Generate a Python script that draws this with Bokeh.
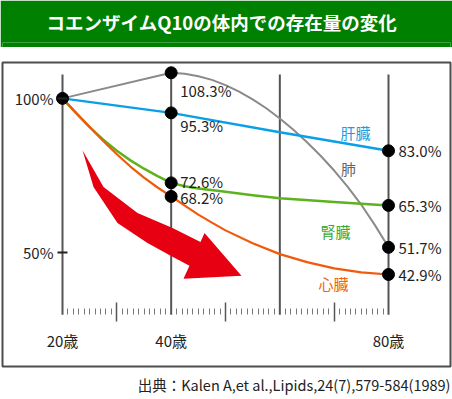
from bokeh.plotting import figure
from bokeh.models import ColumnDataSource, LinearAxis, FixedTicker, Title, Range1d
from bokeh.layouts import column
from bokeh.embed import file_html
from bokeh.resources import INLINE
from bokeh.core.properties import value

# ---------------- data ----------------
TITLE = "コエンザイムQ10の体内での存在量の変化"
SOURCE_NOTE = "出典：Kalen A,et al.,Lipids,24(7),579-584(1989)"

liver_ages = [20, 40, 60, 80]
liver = [100, 95.3, 89.0, 83.0]

lung_ages = [20, 40, 42.5, 45, 47.5, 50, 52.5, 55, 57.5, 60, 62.5, 65, 67.5, 70, 72.5, 75, 77.5, 80]
lung = [100, 108.3, 108.0, 107.2, 106.0, 104.3, 102.2, 99.7, 96.8, 93.5, 89.8, 85.8, 81.4, 76.6,
        71.3, 65.5, 58.9, 51.7]

kidney_ages = [20, 22.5, 25, 27.5, 30, 32.5, 35, 37.5, 40, 42.5, 45, 50, 55, 60, 70, 80]
kidney = [100, 95.2, 90.7, 86.6, 83.0, 79.9, 77.2, 74.8, 72.6, 71.5, 70.8, 69.7, 68.6, 67.6, 66.4, 65.3]

heart_ages = [20, 22.5, 25, 27.5, 30, 32.5, 35, 37.5, 40, 42.5, 45, 47.5, 50, 55, 60, 65, 70, 75, 80]
heart = [100, 95.3, 90.7, 86.2, 81.9, 77.9, 74.3, 71.1, 68.2, 65.2, 62.3, 59.7, 57.2, 53.0, 49.5,
         46.9, 44.9, 43.6, 42.9]

# measured (labelled) points
meas_age = [20, 40, 40, 40, 40, 80, 80, 80, 80]
meas_val = [100, 108.3, 95.3, 72.6, 68.2, 83.0, 65.3, 51.7, 42.9]

organ_names = ["肝臓", "肺", "腎臓", "心臓"]

x_tick_ages = [20, 40, 80]
x_tick_labels = ["20歳", "40歳", "80歳"]
y_ticks = [50, 100]
y_tick_labels = ["50%", "100%"]
decade_lines = [20, 40, 60, 80]
mid_ticks = [30, 50, 70]
minor_ages = [a for a in range(21, 80) if a % 10 != 0]

# decorative red arrow outline (age, %)
arrow_age = [23.68, 27.55, 33.80, 40.25, 45.40, 46.14, 52.94, 42.27, 43.37, 40.25, 35.64, 30.12, 25.71]
arrow_pct = [83.19, 71.23, 62.83, 57.98, 53.46, 56.37, 42.47, 41.50, 45.70, 48.61, 53.14, 59.60, 71.23]

# ---------------- layout / style ----------------
FONT = "Noto Sans CJK JP"
GREEN_BANNER = "#008000"
BLUE = "#0a9fe6"
GRAY = "#8a8a8a"
GREEN = "#5cb31d"
ORANGE = "#f05a0a"
RED = "#e60012"
TEXT = "#222222"

BASELINE = 29.86      # % level of the age axis
LINE_TOP = 107.76     # top of the decade lines

LABEL_DX = [9, 9, 9, 9, 10, 10, 10, 10]
LABEL_DY = [18, 13, -1, 1, 0, 0, 0, 0]

ORGAN_X = [73.93, 72.64, 70.25, 69.88]
ORGAN_Y = [89.0, 77.38, 56.69, 39.88]
ORGAN_COLORS = ["#1a9fe0", "#666666", "#39a935", "#f06414"]

# ---------------- banner ----------------
b = figure(width=452, height=47, x_range=Range1d(0, 1), y_range=Range1d(0, 1),
           x_axis_type=None, y_axis_type=None, output_backend="svg",
           toolbar_location=None, min_border=0,
           background_fill_color=GREEN_BANNER, border_fill_color=GREEN_BANNER,
           outline_line_color=None, title=TITLE)
b.title.align = "left"
b.title.offset = 44
b.title.vertical_align = "middle"
b.title.text_color = "white"
b.title.text_font = FONT
b.title.text_font_size = "18.5px"
b.title.text_font_style = "bold"
b.title.standoff = 14

# ---------------- main chart ----------------
p = figure(width=452, height=352,
           x_range=Range1d(8.957, 91.411), y_range=Range1d(13.06, 111.635),
           x_axis_type=None, y_axis_type=None, output_backend="svg",
           toolbar_location=None,
           min_border_left=2, min_border_right=2, min_border_top=15, min_border_bottom=32,
           outline_line_color="#4d4d4d", outline_line_width=2,
           background_fill_color="white", border_fill_color="white")

# decade vertical lines
p.segment(x0=decade_lines, y0=[BASELINE] * len(decade_lines),
          x1=decade_lines, y1=[LINE_TOP] * len(decade_lines),
          line_color="#555555", line_width=2)

# red arrow
p.patch(arrow_age, arrow_pct, fill_color=RED, line_color=None)

# series lines
p.line(lung_ages, lung, line_color=GRAY, line_width=2, line_join="round")
p.line(liver_ages, liver, line_color=BLUE, line_width=2.5, line_join="round")
p.line(kidney_ages, kidney, line_color=GREEN, line_width=2.5, line_join="round")
p.line(heart_ages, heart, line_color=ORANGE, line_width=2.2, line_join="round")

# dots
p.scatter(meas_age, meas_val, size=12, color="black")

# value labels
lbl = ColumnDataSource(dict(x=meas_age[1:], y=meas_val[1:],
                            text=[f"{v:.1f}%" for v in meas_val[1:]],
                            dx=LABEL_DX, dy=LABEL_DY))
p.text(x="x", y="y", text="text", x_offset="dx", y_offset="dy", source=lbl,
       text_font=value(FONT), text_font_size=value("15px"), text_color=TEXT,
       text_align="left", text_baseline="middle")

# organ names
p.text(x=ORGAN_X, y=ORGAN_Y, text=organ_names, text_color=ORGAN_COLORS,
       text_font=value(FONT), text_font_size=value("15px"),
       text_align="center", text_baseline="middle")

# y axis (on the 20-year line)
yaxis = LinearAxis(fixed_location=20, ticker=FixedTicker(ticks=y_ticks),
                   major_label_overrides=dict(zip(y_ticks, y_tick_labels)),
                   axis_line_color=None, major_tick_in=5, major_tick_out=5,
                   major_tick_line_color=TEXT, major_tick_line_width=2,
                   minor_tick_line_color=None, major_label_standoff=4,
                   major_label_text_font=FONT, major_label_text_font_size="15px",
                   major_label_text_color=TEXT)
p.add_layout(yaxis, "left")

# x axis ticks (yearly minor, 10-year middle ticks)
xticks = LinearAxis(fixed_location=BASELINE,
                    ticker=FixedTicker(ticks=mid_ticks, minor_ticks=minor_ages),
                    major_label_overrides={t: "" for t in mid_ticks},
                    axis_line_color=None,
                    major_tick_in=12, major_tick_out=7, major_tick_line_color="#555555",
                    major_tick_line_width=1.5,
                    minor_tick_in=6, minor_tick_out=0, minor_tick_line_color="#777777",
                    minor_tick_line_width=1)
p.add_layout(xticks, "below")

# x axis labels
xlabels = LinearAxis(fixed_location=BASELINE, ticker=FixedTicker(ticks=x_tick_ages),
                     major_label_overrides=dict(zip(x_tick_ages, x_tick_labels)),
                     axis_line_color=None, major_tick_line_color=None,
                     minor_tick_line_color=None, major_tick_in=0, major_tick_out=0,
                     major_label_standoff=15, major_label_text_font=FONT,
                     major_label_text_font_size="15px", major_label_text_color=TEXT)
p.add_layout(xlabels, "below")

# source note
p.add_layout(Title(text=SOURCE_NOTE, align="right", text_font=FONT,
                   text_font_size="14.5px", text_font_style="normal",
                   text_color=TEXT), "below")

layout = column(b, p, spacing=0)
open("out.html", "w", encoding="utf-8").write(file_html(layout, INLINE))
